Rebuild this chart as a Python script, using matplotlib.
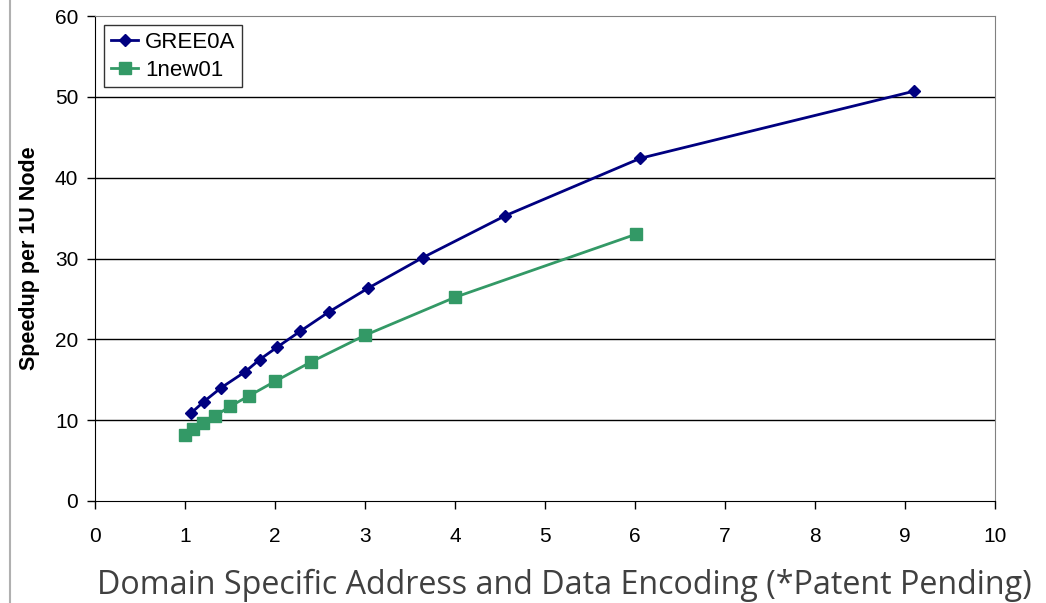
import matplotlib
matplotlib.use('Agg')
import matplotlib.pyplot as plt
from matplotlib.lines import Line2D

# GREE0A series
gree_x = [1.07, 1.21, 1.40, 1.67, 1.83, 2.02, 2.28, 2.60, 3.03, 3.64, 4.56, 6.06, 9.10]
gree_y = [10.9, 12.3, 14.0, 16.0, 17.5, 19.0, 21.0, 23.4, 26.3, 30.1, 35.3, 42.4, 50.7]

# 1new01 series
new_x = [1.00, 1.09, 1.20, 1.33, 1.50, 1.71, 2.00, 2.40, 3.00, 4.00, 6.01]
new_y = [8.2, 8.9, 9.6, 10.5, 11.7, 13.0, 14.8, 17.2, 20.5, 25.2, 33.0]

x_ticks = list(range(0, 11))
y_ticks = list(range(0, 61, 10))

NAVY = '#000080'
GREEN = '#339966'

plt.rcParams['font.family'] = ['Liberation Sans', 'DejaVu Sans']

fig = plt.figure(figsize=(10.46, 6.03), dpi=100)
ax = fig.add_axes([95 / 1046, 102 / 603, 900 / 1046, 485 / 603])

for y in y_ticks[1:-1]:
    ax.axhline(y, color='#000000', lw=1.0, zorder=1)

ax.plot(gree_x, gree_y, color=NAVY, lw=2, marker='D', ms=6.5,
        mfc=NAVY, mec=NAVY, label='GREE0A', zorder=3)
ax.plot(new_x, new_y, color=GREEN, lw=2, marker='s', ms=8,
        mfc=GREEN, mec=GREEN, label='1new01', zorder=3)

ax.set_xlim(0, 10)
ax.set_ylim(0, 60)
ax.set_xticks(x_ticks)
ax.set_yticks(y_ticks)
ax.tick_params(axis='both', labelsize=15, length=6, width=1, color='#000000', pad=6)
ax.tick_params(axis='x', pad=13)

for s in ['top', 'right']:
    ax.spines[s].set_color('#808080')
for s in ['left', 'bottom']:
    ax.spines[s].set_color('#000000')

ax.set_ylabel('Speedup per 1U Node', fontsize=15.5, fontweight='bold', labelpad=11)

leg = ax.legend(loc='upper left', bbox_to_anchor=(0.005, 0.99), fontsize=16,
                frameon=True, fancybox=False, edgecolor='#000000',
                handlelength=1.25, handletextpad=0.3, borderpad=0.3,
                labelspacing=0.3, borderaxespad=0.2)
leg.get_frame().set_linewidth(1)

fig.text(564 / 1046, 18 / 603, 'Domain Specific Address and Data Encoding (*Patent Pending)',
         ha='center', va='center', fontsize=23.2, color='#404040',
         family=['Open Sans', 'DejaVu Sans'])

fig.add_artist(Line2D([10 / 1046, 10 / 1046], [0, 1], color='#b0b0b0', lw=1.5,
                      transform=fig.transFigure))

fig.savefig('out.png', dpi=100)
